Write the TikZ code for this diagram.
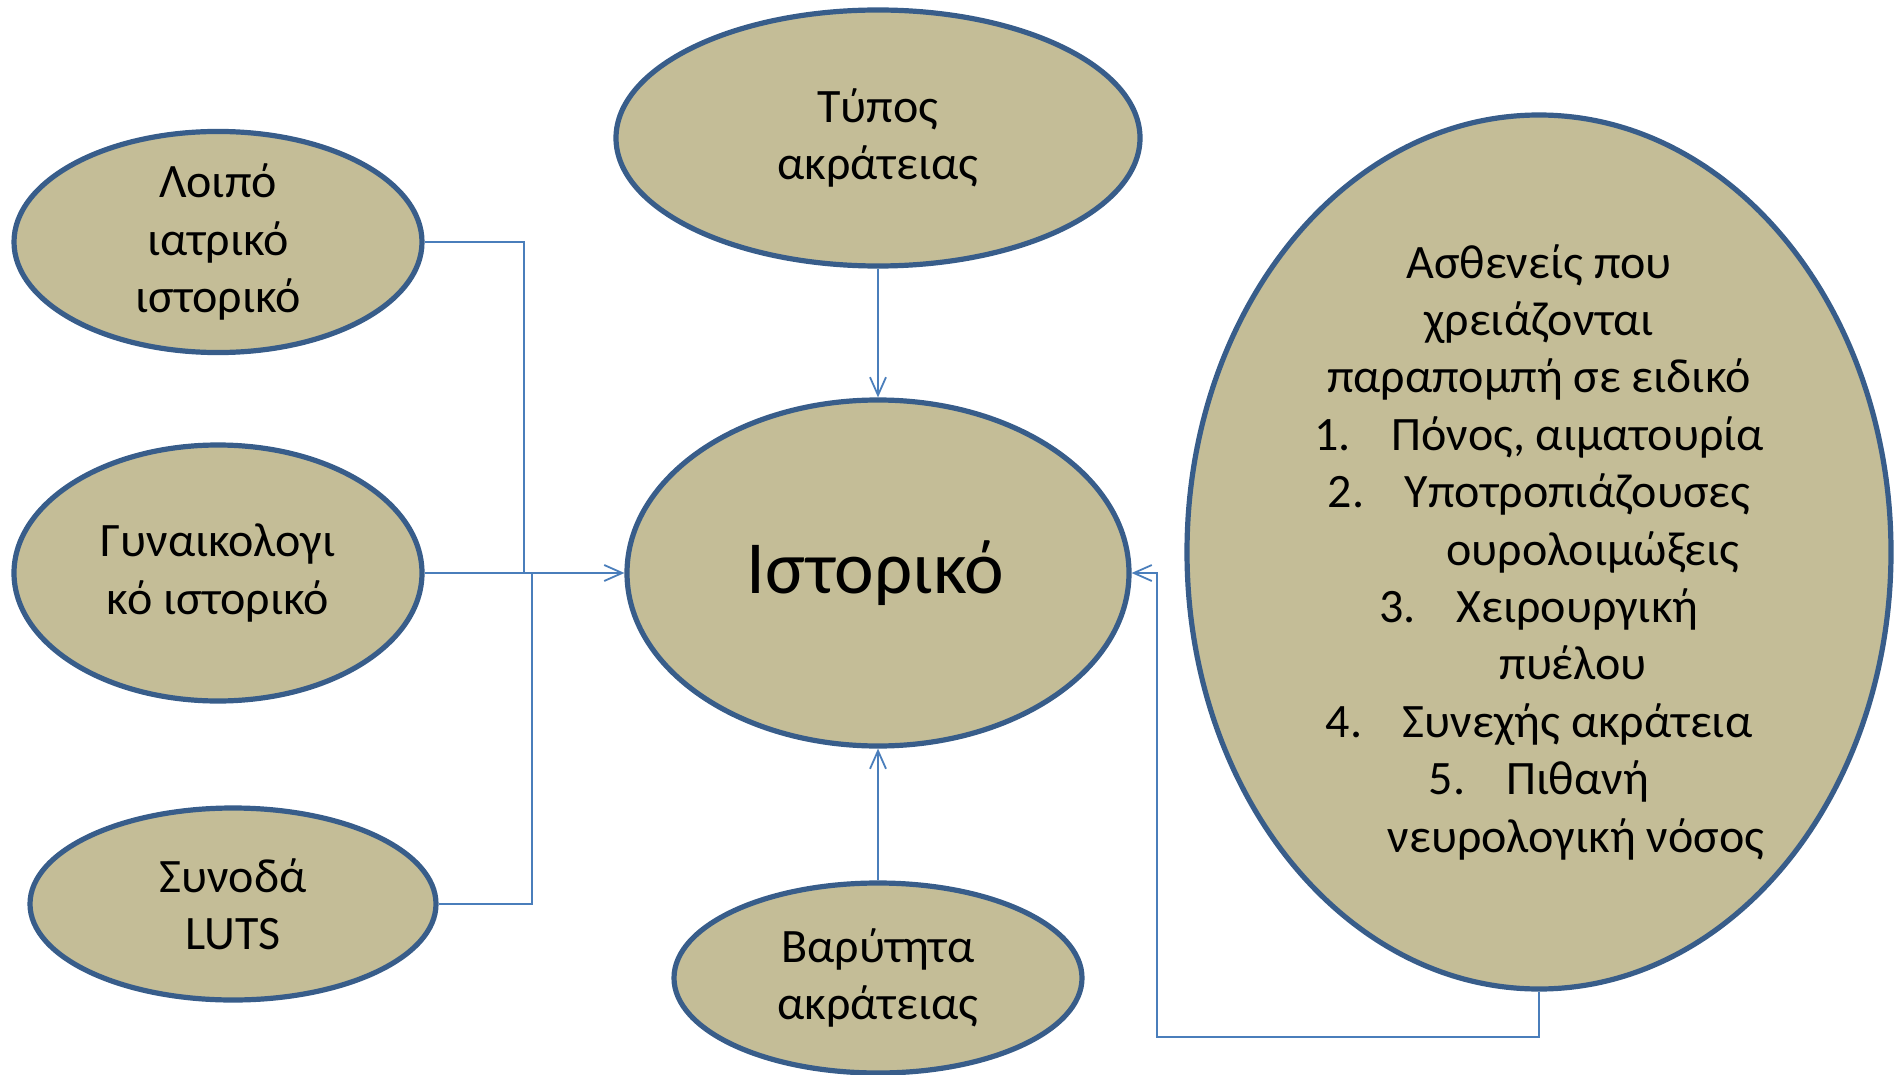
\documentclass[tikz,border=0pt]{standalone}
\usepackage{fontspec}
\setmainfont{Carlito}
\usetikzlibrary{shapes.geometric,arrows.meta}
\definecolor{blobfill}{HTML}{C4BD97}
\definecolor{blobline}{HTML}{385D8A}
\definecolor{linkblue}{HTML}{4A7EBB}
\begin{document}
\begin{tikzpicture}[x=0.5pt,y=-0.5pt,
	blob/.style={ellipse,draw=blobline,fill=blobfill,line width=2.6pt,inner sep=0pt,
		align=center,font=\fontsize{24}{28.7}\selectfont},
	link/.style={draw=linkblue,line width=0.9pt},
	feed/.style={link,-{Straight Barb[length=9pt,width=8pt]}}]
	\useasboundingbox (0,0) rectangle (1894,1075);
	% the ellipses
	\node[blob,minimum width=262pt,minimum height=128pt] (type) at (878,138) {
		Τύπος\\ακράτειας
	};
	\node[blob,minimum width=251pt,minimum height=173pt,font=\fontsize{37.5}{45}\selectfont] (hist) at (878,573) {
		\hspace*{6pt}Ιστορικό
	};
	\node[blob,minimum width=204pt,minimum height=95pt] (sev) at (878,978) {
		Βαρύτητα\\ακράτειας
	};
	\node[blob,minimum width=204pt,minimum height=97pt] (ltop) at (218,242) {
		Λοιπό\\ιατρικό\\ιστορικό
	};
	\node[blob,minimum width=204pt,minimum height=128pt] (lmed) at (218,573) {
		Γυναικολογι\\κό ιστορικό
	};
	\node[blob,minimum width=203pt,minimum height=96pt] (lbot) at (233,904) {
		Συνοδά\\LUTS
	};
	\node[blob,minimum width=352pt,minimum height=437pt] (refer) at (1539,552) {};
	\node[align=center,font=\fontsize{24}{28.7}\selectfont] (refertext) at (refer) {
		Ασθενείς που\\
		χρειάζονται\\
		παραπομπή σε ειδικό\\
		1.\hspace{0.85em}Πόνος, αιματουρία\\
		2.\hspace{0.85em}Υποτροπιάζουσες\\
		\hspace*{54pt}ουρολοιμώξεις\\
		3.\hspace{0.85em}Χειρουργική\\
		\hspace*{34pt}πυέλου\\
		4.\hspace{0.85em}Συνεχής ακράτεια\\
		5.\hspace{0.85em}Πιθανή\\
		\hspace*{37pt}νευρολογική νόσος
	};
	% connectors
	\coordinate (jtop) at (524,573);
	\coordinate (jbot) at (532,573);
	\coordinate (rback) at (1157,1037);
	\draw[link] (ltop.east) -| (jtop);
	\draw[link] (lbot.east) -| (jbot);
	\draw[feed] (lmed.east) -- (hist.west);
	\draw[feed] (type.south) -- (hist.north);
	\draw[feed] (sev.north) -- (hist.south);
	\draw[feed] (refer.south) |- (rback) |- (hist.east);
\end{tikzpicture}
\end{document}
